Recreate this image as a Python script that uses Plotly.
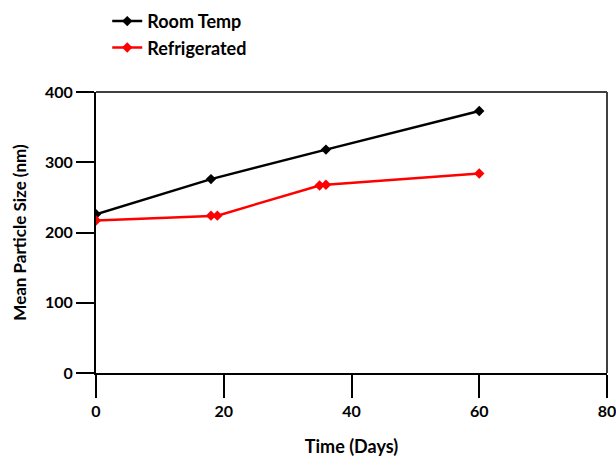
import plotly.graph_objects as go

# Data
room_days = [0, 18, 36, 60]
room_size = [226, 276, 318, 373]

refrig_days = [0, 18, 19, 35, 36, 60]
refrig_size = [217, 224, 224, 267, 268, 284]

x_ticks = [0, 20, 40, 60, 80]
y_ticks = [0, 100, 200, 300, 400]

FONT = "Lato"

fig = go.Figure()
fig.add_trace(go.Scatter(
    x=room_days, y=room_size, name="Room Temp", mode="lines+markers",
    line=dict(color="black", width=2.5),
    marker=dict(symbol="diamond", size=8, color="black"),
))
fig.add_trace(go.Scatter(
    x=refrig_days, y=refrig_size, name="Refrigerated", mode="lines+markers",
    line=dict(color="#ff0000", width=2.5),
    marker=dict(symbol="diamond", size=8, color="#ff0000"),
))

fig.update_layout(
    width=616, height=457,
    margin=dict(l=96, r=9, t=92, b=84, autoexpand=False),
    paper_bgcolor="white", plot_bgcolor="white",
    font=dict(family=FONT, size=16, color="black", weight="bold"),
    showlegend=True,
    legend=dict(
        x=0.022, y=1.317, xanchor="left", yanchor="top",
        bgcolor="rgba(0,0,0,0)", font=dict(size=18, family=FONT, weight="bold"),
        tracegroupgap=0, itemwidth=30,
    ),
    xaxis=dict(
        range=[0, 80], tickvals=x_ticks, ticktext=[str(v) for v in x_ticks],
        showgrid=False, zeroline=False,
        showline=True, linecolor="black", linewidth=2,
        ticks="outside", ticklen=23, tickwidth=2, tickcolor="black",
        ticklabeloverflow="allow",
        tickfont=dict(size=16, weight="bold"),
        title=dict(text="Time (Days)", standoff=25, font=dict(size=18, weight="bold")),
        automargin=False,
    ),
    yaxis=dict(
        range=[0, 400], tickvals=y_ticks, ticktext=[str(v) for v in y_ticks],
        showgrid=False, zeroline=False,
        showline=True, linecolor="black", linewidth=2,
        ticks="outside", ticklen=18, tickwidth=2, tickcolor="black",
        tickfont=dict(size=16, weight="bold"),
        title=dict(text="Mean Particle Size (nm)", standoff=14, font=dict(size=17, weight="bold")),
        automargin=False,
    ),
)

# top and right frame lines of the plot box
fig.add_shape(type="line", xref="paper", yref="paper", x0=0, x1=1, y0=1, y1=1,
              line=dict(color="#404040", width=2))
fig.add_shape(type="line", xref="paper", yref="paper", x0=1, x1=1, y0=1, y1=0,
              line=dict(color="#404040", width=2))

fig.write_html(
    "out.html",
    config={"displayModeBar": False},
    post_script="document.body.style.margin='0';document.body.style.overflow='hidden';",
)
